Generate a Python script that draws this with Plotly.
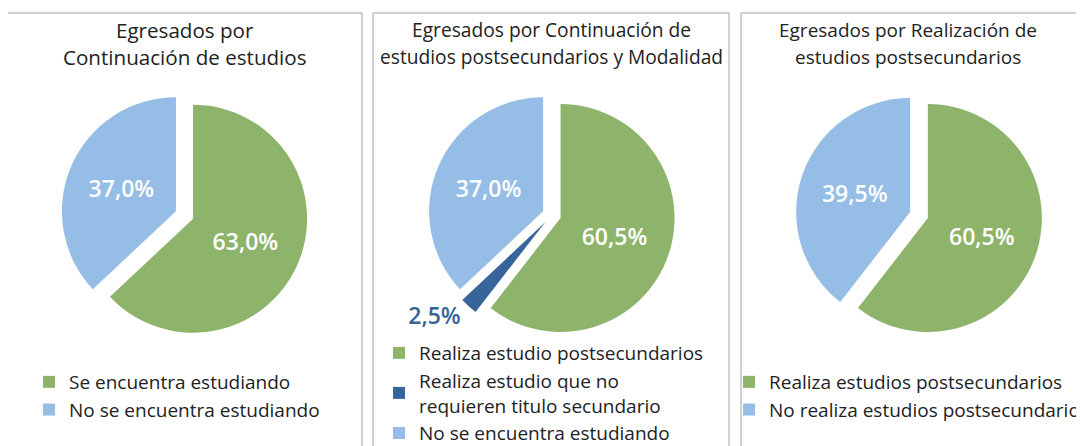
import plotly.graph_objects as go

# the page body adds an 8px margin, so the figure is drawn 8px in from the corner
OFF = 8
W, H = 1084 - OFF, 470

# data
labels_1 = ['Se encuentra estudiando', 'No se encuentra estudiando']
values_1 = [63.0, 37.0]

# trailing space keeps this label apart from the identical one of the first pie
# (plotly merges pie legend items that share a label)
labels_2 = ['Realiza estudio postsecundarios',
            'Realiza estudio que no<br>requieren titulo secundario',
            'No se encuentra estudiando ']
values_2 = [60.5, 2.5, 37.0]

labels_3 = ['Realiza estudios postsecundarios', 'No realiza estudios postsecundarios']
values_3 = [60.5, 39.5]

titles = [('Egresados por', 'Continuación de estudios'),
          ('Egresados por Continuación de', 'estudios postsecundarios y Modalidad'),
          ('Egresados por Realización de', 'estudios postsecundarios')]

GREEN = '#8DB46A'
LIGHT = '#95BDE6'
DARK = '#37649A'
FONT = 'Open Sans'
PULL = 0.082


def px_x(x):
    return (x - OFF) / W


def px_y(y):
    return 1 - (y - OFF) / H


def dom(cx, cy, half=114 * (1 + PULL)):
    return dict(x=[px_x(cx - 135), px_x(cx + 135)],
                y=[px_y(cy + half), px_y(cy - half)])


common = dict(sort=False, direction='clockwise', rotation=0,
              texttemplate='%{percent:.1%}', hoverinfo='skip',
              insidetextorientation='horizontal')
inside_font = dict(family=FONT, size=23, color='white', weight=600)

fig = go.Figure()
fig.add_trace(go.Pie(labels=labels_1, values=values_1, domain=dom(184.5, 215),
                     marker=dict(colors=[GREEN, LIGHT]), pull=[PULL] * 2,
                     textposition='inside', insidetextfont=inside_font,
                     legend='legend', **common))
fig.add_trace(go.Pie(labels=labels_2, values=values_2, domain=dom(551.7, 215),
                     marker=dict(colors=[GREEN, DARK, LIGHT]), pull=[PULL] * 3,
                     textposition=['inside', 'outside', 'inside'],
                     insidetextfont=inside_font,
                     outsidetextfont=dict(family=FONT, size=23, color=DARK, weight=600),
                     legend='legend2', **common))
fig.add_trace(go.Pie(labels=labels_3, values=values_3, domain=dom(919, 215),
                     marker=dict(colors=[GREEN, LIGHT]), pull=[PULL] * 2,
                     textposition='inside', insidetextfont=inside_font,
                     legend='legend3', **common))

# panel frames
for x0, x1 in [(7, 362), (373, 729), (741, 1095)]:
    fig.add_shape(type='rect', xref='paper', yref='paper',
                  x0=px_x(x0), x1=px_x(x1), y0=px_y(490), y1=px_y(13),
                  line=dict(color='#A0A0A0', width=1), fillcolor='rgba(0,0,0,0)')

for (l1, l2), cx, fs in zip(titles, [184.5, 551, 908], [20.6, 19.2, 19.0]):
    for txt, yy in [(l1, 30), (l2, 57)]:
        fig.add_annotation(text=txt, xref='paper', yref='paper', x=px_x(cx), y=px_y(yy),
                           xanchor='center', yanchor='middle', showarrow=False,
                           font=dict(family=FONT, size=fs, color='#222222'))

leg = dict(font=dict(family=FONT, size=19, color='#222222'), bgcolor='rgba(0,0,0,0)',
           xanchor='left', yanchor='top', traceorder='normal', maxheight=300)

fig.update_layout(
    width=W, height=H,
    margin=dict(l=0, r=0, t=0, b=0, autoexpand=False),
    paper_bgcolor='white', plot_bgcolor='white',
    separators=',.',
    legend=dict(x=px_x(29), y=px_y(363), **leg),
    legend2=dict(x=px_x(379), y=px_y(334), **leg),
    legend3=dict(x=px_x(729), y=px_y(363), **leg),
)

fig.write_html('out.html')
